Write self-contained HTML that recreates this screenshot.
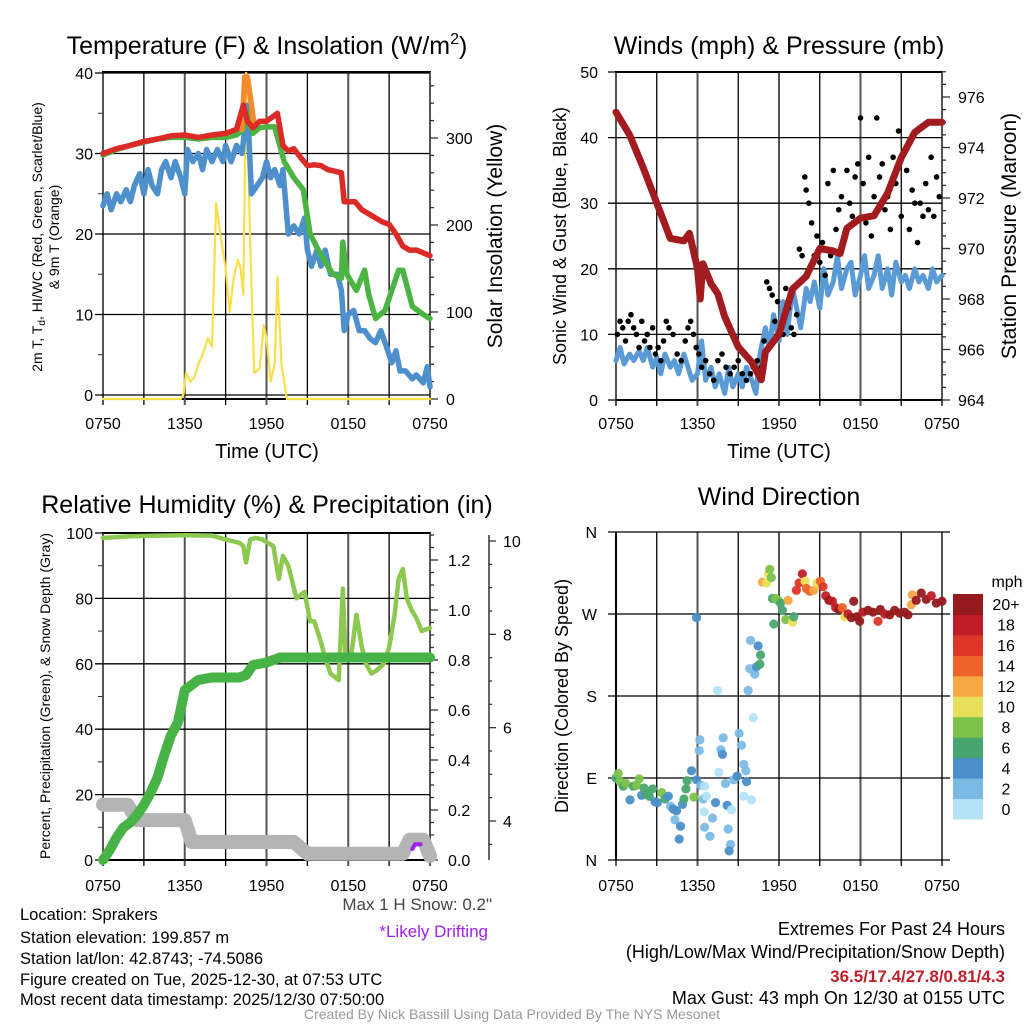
<!DOCTYPE html>
<html><head><meta charset="utf-8">
<style>
html,body{margin:0;padding:0;background:#fff;}
svg{display:block;font-family:"Liberation Sans",sans-serif;}
</style></head>
<body>
<svg id="fig" width="1024" height="1024" viewBox="0 0 1024 1024" xmlns="http://www.w3.org/2000/svg">
<rect width="1024" height="1024" fill="#fff"/>
<g id="gTL"></g>
<g id="gTR"></g>
<g id="gBL"></g>
<g id="gBR"></g>

<text x="267" y="54" font-size="25" text-anchor="middle">Temperature (F) &amp; Insolation (W/m<tspan font-size="16" dy="-10">2</tspan><tspan dy="10">)</tspan></text>
<text x="779" y="54" font-size="25" text-anchor="middle">Winds (mph) &amp; Pressure (mb)</text>
<text x="267" y="513" font-size="25" text-anchor="middle">Relative Humidity (%) &amp; Precipitation (in)</text>
<text x="779" y="505" font-size="25" text-anchor="middle">Wind Direction</text>

<text x="267" y="458" font-size="20" text-anchor="middle">Time (UTC)</text>
<text x="779" y="458" font-size="20" text-anchor="middle">Time (UTC)</text>

<text transform="translate(42,237) rotate(-90)" font-size="14" text-anchor="middle">2m T, T<tspan font-size="10" dy="3">d</tspan><tspan dy="-3">, HI/WC (Red, Green, Scarlet/Blue)</tspan></text>
<text transform="translate(59,237) rotate(-90)" font-size="14" text-anchor="middle">&amp; 9m T (Orange)</text>
<text transform="translate(502,236) rotate(-90)" font-size="21" text-anchor="middle">Solar Insolation (Yellow)</text>
<text transform="translate(566,236) rotate(-90)" font-size="18" text-anchor="middle">Sonic Wind &amp; Gust (Blue, Black)</text>
<text transform="translate(1016,236) rotate(-90)" font-size="21" text-anchor="middle">Station Pressure (Maroon)</text>
<text transform="translate(50,696) rotate(-90)" font-size="14" text-anchor="middle">Percent, Precipitation (Green), &amp; Snow Depth (Gray)</text>
<text transform="translate(568,696) rotate(-90)" font-size="18" text-anchor="middle">Direction (Colored By Speed)</text>

<text x="492" y="910" font-size="17" fill="#444" text-anchor="end">Max 1 H Snow: 0.2"</text>
<text x="488" y="937" font-size="17" fill="#a020f0" text-anchor="end">*Likely Drifting</text>

<g font-size="16.5">
<text x="20" y="920">Location: Sprakers</text>
<text x="20" y="943">Station elevation: 199.857 m</text>
<text x="20" y="964">Station lat/lon: 42.8743; -74.5086</text>
<text x="20" y="985">Figure created on Tue, 2025-12-30, at 07:53 UTC</text>
<text x="20" y="1005">Most recent data timestamp: 2025/12/30 07:50:00</text>
</g>
<g font-size="18" text-anchor="end">
<text x="1005" y="935">Extremes For Past 24 Hours</text>
<text x="1005" y="958">(High/Low/Max Wind/Precipitation/Snow Depth)</text>
<text x="1005" y="982" fill="#c0202a" font-weight="bold" font-size="17">36.5/17.4/27.8/0.81/4.3</text>
<text x="1005" y="1004">Max Gust: 43 mph On 12/30 at 0155 UTC</text>
</g>
<text x="512" y="1019" font-size="14" fill="#999" text-anchor="middle">Created By Nick Bassill Using Data Provided By The NYS Mesonet</text>
</svg>
<script>
// ---------- DATA ----------
const xTickLabels = ["0750","1350","1950","0150","0750"];
// Temperature panel (hours since 0750)
const redT = [0,1,2,3,4,5,6,7,8,9,9.8,10.3,10.6,11,11.5,12,12.8,13.2,13.6,14,14.5,15,15.5,16,16.5,17,17.5,17.7,17.9,18.5,19,19.5,20,20.5,21,21.5,22,22.5,23,24];
const redV = [30,30.6,31,31.5,31.8,32.2,32.3,32,32.3,32.5,33,36,34,33.2,34,34,35,31,30.3,30.6,29.5,28.5,28.6,28.5,28,27.8,27.6,24,24,24,23,22.5,22,21.5,21.2,20,18.5,18,18,17.3];
const orangeT = [10.2,10.4,10.6,10.9,11.1];
const orangeV = [33,39.5,39.5,36,33.5];
const greenT = [0,1,2,3,4,5,6,7,8,9,9.8,10.3,10.7,11,11.5,12,12.6,13.3,14,14.7,15.2,15.8,16.5,16.9,17.5,17.6,17.9,18.6,19.2,19.5,20,20.7,21.2,21.7,22,22.7,23.5,24];
const greenV = [29.8,30.5,31,31.4,31.8,32,32,31.8,32,32,32.3,33,35,32.5,33.2,33.3,33.3,29,27,25.5,20,18,16,15,14.5,19,15,13,15.5,12.5,9.5,10.5,13,15.5,15.5,11,10,9.5];
const blueT = [0,0.3,0.6,1,1.3,1.7,2,2.3,2.7,3,3.3,3.6,4,4.3,4.6,5,5.3,5.7,6,6.2,6.6,7,7.3,7.6,8,8.4,8.8,9,9.4,9.8,10.2,10.6,10.9,11.3,11.7,12,12.3,12.6,13,13.2,13.6,14,14.4,14.8,15,15.3,15.7,16,16.3,16.7,17.2,17.5,17.7,18,18.4,18.8,19.2,19.6,20,20.4,20.8,21.2,21.5,21.8,22.2,22.7,23,23.5,23.8,24];
const blueV = [23.5,25,23,25,24,25.5,24,26,27.5,25,28,26,25,28,29,27,29,27,25,30.5,29,30,28,30.5,29,30.5,29,31,29,31,30,36,25,26,27,29,27,28,26,28,20,21,20,22,18,16,18,16,18,15,15,13,8,10,10.5,8,8,7,6.5,8,6,4,5.5,3,3,2,2.5,1.5,3.5,1];
const solT = [0,5.7,5.9,6.1,6.4,6.7,7.0,7.4,7.7,8.0,8.3,8.6,9.0,9.3,9.6,9.9,10.1,10.3,10.5,10.8,11.1,11.5,11.8,12.0,12.3,12.6,12.8,13.1,13.5,24];
const solV = [0,0,5,30,20,25,40,55,70,60,225,190,150,100,140,160,150,120,375,180,30,35,85,70,20,40,140,40,0,0];
// Winds panel
const windT = [0,0.3,0.6,1,1.3,1.7,2,2.3,2.7,3,3.3,3.6,4,4.3,4.6,5,5.3,5.6,6,6.3,6.6,7,7.3,7.6,8,8.3,8.6,9,9.3,9.6,10,10.3,10.6,11,11.3,11.6,12,12.3,12.6,13,13.3,13.6,14,14.3,14.6,15,15.3,15.6,16,16.3,16.6,17,17.3,17.6,18,18.3,18.6,19,19.3,19.6,20,20.3,20.6,21,21.3,21.6,22,22.3,22.6,23,23.3,23.6,24];
const windV = [6,8,5.5,7,6,7.5,6,8,5,6.5,4,7,5,6,4,7,5,3,4,9,3,5,2,4,1,5,2,4,2,5,3,1,7,11,8,13,9,15,10,17,14,11,17,15,18,14,20,16,18,22,17,20,21,16,19,22,17,19,22,17,20,16,21,18,19,17,20,18,19,17,20,18,19];
const gustT = [0.1,0.3,0.5,0.7,0.9,1.1,1.3,1.5,1.7,1.9,2.1,2.3,2.5,2.7,2.9,3.1,3.3,3.5,3.7,3.9,4.2,4.5,4.8,5.1,5.3,5.5,5.7,5.9,6.1,6.3,6.6,6.9,7.2,7.5,7.8,8.1,8.4,8.7,9.0,9.3,9.6,9.9,10.1,10.4,10.7,10.9,11.1,11.3,11.5,11.7,11.9,12.1,12.3,12.5,12.7,12.9,13.1,13.3,13.5,13.7,13.9,14.0,14.2,14.4,14.6,14.8,15.0,15.2,15.4,15.6,15.8,16.0,16.2,16.4,16.6,16.8,17.0,17.2,17.4,17.6,17.8,18.0,18.2,18.4,18.6,18.8,19.0,19.2,19.4,19.6,19.8,20.0,20.2,20.4,20.6,20.8,21.0,21.2,21.4,21.6,21.8,22.0,22.2,22.4,22.6,22.8,23.0,23.2,23.4,23.6,23.8];
const gustV = [10,12,11,9,12,13,11,10,8,12,9,10,8,11,7,8,6,9,12,11,10,7,6,9,11,12,10,8,7,5,6,4,3,6,7,5,4,5,6,4,3,4,5,6,5,9,18,17,16,12,15,11,10,17,14,11,10,13,23,22,34,32,30,27,22,25,21,24,19,33,22,35,26,29,31,25,35,30,28,34,36,43,33,27,37,25,31,43,34,36,29,31,26,37,33,41,28,38,35,26,32,30,24,30,28,33,29,37,28,34,31,22];
const presT = [0,1,2,3,4,5,5.4,6,6.2,6.4,7,7.5,8,9,10,10.7,11,12,13,14,15,16,16.5,17,18,19,20,21,22,23,24];
const presV = [975.4,974.5,973.2,971.8,970.4,970.3,970.6,969.2,968,969.4,968.6,968.2,967.3,966.1,965.5,964.8,965.9,966.6,968.4,968.9,970,969.9,969.8,970.8,971.2,971.3,972.2,973.6,974.6,975,975];
// Humidity panel
const rhT = [0,2,4,6,8,9,10,10.3,10.5,10.8,11.2,11.7,12.5,12.9,13.2,13.6,14.2,14.8,15.2,15.5,15.9,16.3,16.7,17.0,17.3,17.6,17.8,18.2,18.6,19.0,19.3,19.7,20.1,20.6,21.0,21.4,21.7,22.0,22.3,22.7,23.0,23.4,24];
const rhV = [98.5,99,99.2,99.3,99.2,98,97,96,91,98,98.5,98,96,86,93,90,80,82,73,73,68,62,57,56,55,83,62,62,75,65,60,57,58,60,65,75,86,89,80,76,74,70,71];
const precT = [0,0.5,1,1.5,2,2.5,3,3.5,4,4.5,5,5.5,6,6.5,7,8,9,10,10.5,11,12,13,24];
const precV = [0,0.04,0.09,0.13,0.15,0.18,0.22,0.27,0.33,0.42,0.5,0.55,0.68,0.7,0.72,0.73,0.73,0.73,0.74,0.78,0.79,0.81,0.81];
const snowT = [0,1.8,2.5,6.0,6.5,12.5,14.0,15.0,17.5,22.0,22.5,23.5,24];
const snowV = [4.35,4.35,4.02,4.02,3.55,3.55,3.55,3.3,3.3,3.3,3.6,3.6,3.25];
const driftT = [22.7,22.9,23.3];
const driftV = [3.4,3.5,3.5];
// Wind direction panel
const dirT = [0,0.17,0.3,0.54,0.73,1.03,1.27,1.52,1.71,1.89,2.06,2.25,2.45,2.69,2.87,3.04,3.36,3.6,3.85,4.02,4.21,4.46,4.34,4.75,4.65,4.9,5.0,5.15,5.24,5.56,5.73,5.93,6.25,5.93,6.13,6.17,6.42,6.54,6.66,6.49,6.52,6.91,7.11,7.33,7.47,7.57,7.72,7.84,7.89,8.06,8.18,8.26,8.43,8.33,8.5,8.67,8.92,9.07,9.24,9.41,9.56,9.41,9.61,9.97,9.73,10.1,9.85,10.22,10.34,10.46,9.9,10.64,10.59,10.78,11.08,11.22,11.32,11.44,11.52,11.76,11.93,12.11,12.25,11.62,12.5,12.67,12.99,13.09,13.28,13.48,13.72,13.92,14.02,14.26,14.56,14.8,15.05,15.24,15.44,15.68,15.93,16.17,16.42,16.66,16.84,17.08,17.33,17.5,17.74,17.94,18.18,18.55,18.92,19.29,19.46,19.78,20.15,20.51,20.88,21.25,21.49,21.74,21.81,22.1,22.47,22.84,23.21,23.58,24];
const dirDeg = [90,95,86,81,84,66,81,82,89,71,79,72,70,78,64,63,74,67,70,59,56,54,44,37,23,61,67,78,87,98,69,88,82,266,120,132,67,81,70,53,36,26,46,63,186,96,121,116,134,84,60,34,17,10,55,88,92,139,126,105,98,70,86,66,186,156,210,204,212,235,241,225,215,305,304,314,319,310,287,287,285,282,274,259,264,285,261,267,296,304,314,306,298,295,296,304,306,300,290,285,284,277,275,277,267,270,266,284,267,262,272,274,272,262,275,270,269,274,271,272,269,280,291,285,293,286,290,282,284];
const dirSpd = [6,8,8,6,8,4,6,8,8,4,6,6,6,6,4,4,8,6,4,2,4,4,2,4,4,4,6,6,6,4,8,4,2,4,2,2,2,0,0,0,2,2,2,4,0,0,2,4,2,2,4,2,2,4,0,2,4,2,2,2,2,0,4,0,2,0,2,2,4,4,2,6,6,12,10,10,8,8,6,8,8,6,6,6,8,12,10,6,16,16,18,10,14,14,12,10,14,16,18,20,18,18,20,14,10,18,20,20,20,20,18,20,20,16,20,18,20,20,20,20,20,12,12,20,20,20,18,20,20];
const cbLabels = ["0","2","4","6","8","10","12","14","16","18","20+"];
const cbColors = ["#b4e3f8","#7bbae4","#4a8fc8","#49a56f","#7cc24b","#e7e05a","#f6a843","#ef6229","#dd3527","#bf1e26","#951a1d"];

// ---------- HELPERS ----------
const NS = "http://www.w3.org/2000/svg";
function mk(parent, tag, attrs) {
  const e = document.createElementNS(NS, tag);
  for (const k in attrs) e.setAttribute(k, attrs[k]);
  parent.appendChild(e);
  return e;
}
function pathOf(ts, vs, xf, yf) {
  return ts.map((t, i) => (i ? "L" : "M") + xf(t).toFixed(1) + "," + yf(vs[i]).toFixed(1)).join("");
}
function lin(d0, d1, r0, r1) { return v => r0 + (v - d0) * (r1 - r0) / (d1 - d0); }

function xAxis(g, x, yTop, yBot, labY) {
  for (let h = 0; h <= 24; h += 3) {
    const l = mk(g, "line", {x1: x(h), x2: x(h), y1: yTop, y2: yBot + 6, stroke: h % 6 ? "#000" : "#555", "stroke-width": h % 6 ? 1.3 : 2});
    
    
  }
  xTickLabels.forEach((s, i) => {
    const t = mk(g, "text", {x: x(i * 6), y: labY, "font-size": 16, "text-anchor": "middle"});
    t.textContent = s;
    
    
  });
}
function hGrid(g, x0, x1, y, lab, lx) {
  const l = mk(g, "line", {x1: x0 - 8, x2: x1, y1: y, y2: y, stroke: "#000", "stroke-width": 1.3});
  
  
  const t = mk(g, "text", {x: lx, y: y + 6, "font-size": 16, "text-anchor": "end"});
  t.textContent = lab;
  
  
}
function rTick(g, xa, y, len, lab, lx) {
  mk(g, "line", {x1: xa, x2: xa + len, y1: y, y2: y, stroke: "#333", "stroke-width": 1.3});
  if (lab !== null) {
    const t = mk(g, "text", {x: lx, y: y + 6, "font-size": 16});
    t.textContent = lab;
    
    
  }
}
function line(g, ts, vs, xf, yf, col, w, name) {
  const p = mk(g, "path", {d: pathOf(ts, vs, xf, yf), fill: "none", stroke: col, "stroke-width": w, "stroke-linejoin": "round", "stroke-linecap": "round"});
  
  
  return p;
}

// ---------- TEMPERATURE PANEL ----------
(function(){
  const g = document.getElementById("gTL");
  const x = lin(0, 24, 103, 430), y = lin(0, 40, 395, 73), ys = lin(0, 300, 399, 138);
  mk(g, "rect", {x: 103, y: 72, width: 327, height: 327, fill: "none", stroke: "#000", "stroke-width": 2});
  xAxis(g, x, 72, 399, 429);
  for (let v = 0; v <= 40; v += 10) hGrid(g, 103, 430, y(v), v, 93);
  for (let v = 5; v < 40; v += 10) mk(g, "line", {x1: 98, x2: 103, y1: y(v), y2: y(v), stroke: "#333"});
  for (let v = 0; v <= 360; v += 20) rTick(g, 430, ys(v), v % 100 ? 4 : 8, v % 100 ? null : v, 446);
  line(g, solT, solV, x, ys, "#f9df4a", 2.2, "solar-line");
  line(g, blueT, blueV, x, y, "#4d90cb", 5.5, "dewpoint-line");
  line(g, greenT, greenV, x, y, "#4bb443", 5.5, "windchill-line");
  line(g, orangeT, orangeV, x, y, "#f28a2e", 5.5, "temp-9m-line");
  line(g, redT, redV, x, y, "#dc2a26", 5.5, "temp-2m-line");
})();

// ---------- WINDS PANEL ----------
(function(){
  const g = document.getElementById("gTR");
  const x = lin(0, 24, 616, 942), y = lin(0, 50, 400, 72), yp = lin(964, 976, 400, 97);
  mk(g, "rect", {x: 616, y: 72, width: 326, height: 328, fill: "none", stroke: "#000", "stroke-width": 2});
  xAxis(g, x, 72, 400, 429);
  for (let v = 0; v <= 50; v += 10) hGrid(g, 616, 942, y(v), v, 598);
  for (let v = 964; v <= 977; v += 0.5) rTick(g, 942, yp(v), v % 2 ? 4 : 8, v % 2 ? null : v, 958);
  line(g, windT, windV, x, y, "#5b9bd5", 5, "sonic-wind-line");
  gustT.forEach((t, i) => {
    const c = mk(g, "circle", {cx: x(t), cy: y(gustV[i]), r: 2.8, fill: "#000"});
    
    
  });
  line(g, presT, presV, x, yp, "#a11b1f", 7, "pressure-line");
})();

// ---------- HUMIDITY PANEL ----------
(function(){
  const g = document.getElementById("gBL");
  const x = lin(0, 24, 103, 430), y = lin(0, 100, 860, 533), yr = lin(0, 1.2, 860, 560), ysn = lin(4, 10, 821, 541);
  mk(g, "rect", {x: 103, y: 533, width: 327, height: 327, fill: "none", stroke: "#000", "stroke-width": 2});
  xAxis(g, x, 533, 860, 891);
  for (let v = 0; v <= 100; v += 20) hGrid(g, 103, 430, y(v), v, 93);
  for (let v = 10; v < 100; v += 20) mk(g, "line", {x1: 98, x2: 103, y1: y(v), y2: y(v), stroke: "#333"});
  for (let i = 0; i <= 26; i++) { const v = i * 0.05; rTick(g, 430, yr(v), i % 4 ? 4 : 8, i % 4 ? null : v.toFixed(1), 448); }
  mk(g, "line", {x1: 489, x2: 489, y1: 535, y2: 860, stroke: "#333", "stroke-width": 1.5});
  for (let v = 3.5; v <= 10; v += 0.5) rTick(g, 489, ysn(v), v % 2 ? 3 : 7, v % 2 ? null : v, 503);
  line(g, snowT, snowV, x, ysn, "#b4b4b4", 14, "snow-depth-line");
  line(g, driftT, driftV, x, ysn, "#a020f0", 4, "drift-line");
  line(g, rhT, rhV, x, y, "#8dc850", 4.5, "humidity-line");
  line(g, precT, precV, x, yr, "#47b347", 10, "precipitation-line");
})();

// ---------- WIND DIRECTION PANEL ----------
(function(){
  const g = document.getElementById("gBR");
  const x = lin(0, 24, 616, 942), y = lin(0, 360, 860, 532);
  xAxis(g, x, 532, 860, 891);
  ["N","E","S","W","N"].forEach((s, i) => hGrid(g, 616, 950, y(i * 90), s, 597));
  mk(g, "line", {x1: 616, x2: 616, y1: 532, y2: 860, stroke: "#000", "stroke-width": 2});
  const col = s => cbColors[Math.min(10, Math.round(s / 2))];
  dirT.forEach((t, i) => {
    const c = mk(g, "circle", {cx: x(t), cy: y(dirDeg[i]), r: 4.6, fill: col(dirSpd[i]), "fill-opacity": 0.95});
    
    
  });
  const cb0 = 819, h = 225 / 11;
  cbColors.forEach((c, i) => {
    const r = mk(g, "rect", {x: 953, y: cb0 - (i + 1) * h, width: 30, height: h + 0.5, fill: c});
    
    
    const t = mk(g, "text", {x: 1006, y: cb0 - (i + 0.5) * h + 6, "font-size": 16, "text-anchor": "middle"});
    t.textContent = cbLabels[i];
    
    
  });
  const u = mk(g, "text", {x: 1007, y: 587, "font-size": 16, "text-anchor": "middle"});
  u.textContent = "mph";
  
  
})();
</script>
</body></html>
